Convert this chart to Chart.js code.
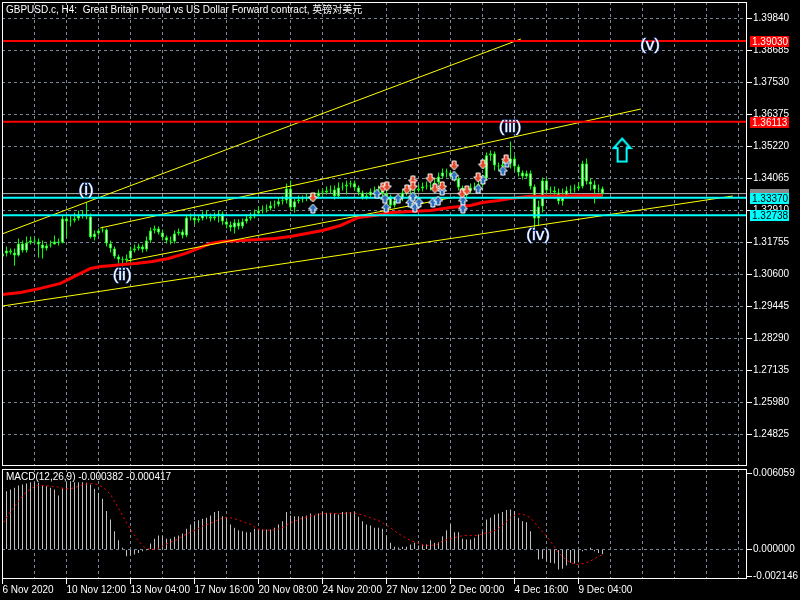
<!DOCTYPE html>
<html><head><meta charset="utf-8">
<script src="https://cdn.jsdelivr.net/npm/chart.js@4/dist/chart.umd.min.js"></script>
<style>
html,body{margin:0;padding:0;background:#000;width:800px;height:600px;overflow:hidden}
#main{position:absolute;left:0;top:0}
#macd{position:absolute;left:0;top:468px}
</style></head><body>
<canvas id="main" width="800" height="468"></canvas>
<canvas id="macd" width="800" height="132"></canvas>
<script>
// ---------------- DATA ----------------
const titleText = 'GBPUSD.c, H4:  Great Britain Pound vs US Dollar Forward contract, 英镑对美元';
const macdLabel = 'MACD(12,26,9) -0.000382 -0.000417';

const firstOpen = 1.3125;
const closes = [
1.3136,1.3147,1.3139,1.3129,1.3172,1.3147,1.3175,1.3183,1.3179,1.3168,
1.3154,1.3165,1.3168,1.3179,1.3175,1.3262,1.3251,1.3255,1.3262,1.3273,
1.3273,1.3269,1.3194,1.3208,1.3219,1.3222,1.3172,1.3154,1.3125,1.3114,
1.3111,1.3118,1.3147,1.3154,1.3161,1.3150,1.3183,1.3219,1.3226,1.3212,
1.3194,1.3183,1.3179,1.3208,1.3215,1.3201,1.3266,1.3266,1.3255,1.3262,
1.3277,1.3269,1.3262,1.3269,1.3280,1.3251,1.3240,1.3230,1.3248,1.3233,
1.3251,1.3262,1.3269,1.3280,1.3291,1.3295,1.3298,1.3309,1.3313,1.3324,
1.3327,1.3370,1.3302,1.3324,1.3331,1.3334,1.3338,1.3338,1.3342,1.3356,
1.3356,1.3363,1.3367,1.3342,1.3374,1.3378,1.3385,1.3389,1.3374,1.3356,
1.3338,1.3345,1.3360,1.3363,1.3367,1.3352,1.3342,1.3309,1.3327,1.3334,
1.3356,1.3363,1.3367,1.3363,1.3370,1.3378,1.3381,1.3378,1.3392,1.3414,
1.3428,1.3428,1.3416,1.3407,1.3374,1.3345,1.3363,1.3374,1.3378,1.3385,
1.3407,1.3490,1.3497,1.3453,1.3450,1.3457,1.3464,1.3479,1.3450,1.3428,
1.3414,1.3425,1.3378,1.3262,1.3305,1.3399,1.3363,1.3363,1.3356,1.3324,
1.3342,1.3363,1.3367,1.3370,1.3378,1.3461,1.3396,1.3385,1.3367,1.3370,
1.3352];
const highs = [
1.3150,1.3161,1.3154,1.3154,1.3190,1.3183,1.3197,1.3197,1.3194,1.3190,
1.3183,1.3172,1.3183,1.3201,1.3190,1.3273,1.3269,1.3273,1.3284,1.3291,
1.3291,1.3320,1.3280,1.3219,1.3226,1.3233,1.3226,1.3183,1.3161,1.3132,
1.3125,1.3132,1.3161,1.3168,1.3172,1.3168,1.3197,1.3230,1.3237,1.3233,
1.3222,1.3201,1.3197,1.3219,1.3226,1.3222,1.3277,1.3280,1.3277,1.3273,
1.3287,1.3291,1.3280,1.3284,1.3291,1.3287,1.3259,1.3251,1.3259,1.3259,
1.3262,1.3277,1.3284,1.3295,1.3305,1.3309,1.3313,1.3324,1.3327,1.3338,
1.3342,1.3388,1.3399,1.3334,1.3345,1.3345,1.3352,1.3352,1.3356,1.3367,
1.3370,1.3378,1.3381,1.3381,1.3392,1.3392,1.3399,1.3399,1.3399,1.3381,
1.3363,1.3356,1.3370,1.3378,1.3381,1.3378,1.3363,1.3349,1.3338,1.3345,
1.3367,1.3374,1.3381,1.3378,1.3385,1.3392,1.3396,1.3392,1.3407,1.3428,
1.3443,1.3443,1.3435,1.3428,1.3414,1.3381,1.3374,1.3388,1.3392,1.3399,
1.3421,1.3500,1.3508,1.3504,1.3464,1.3471,1.3482,1.3540,1.3490,1.3457,
1.3435,1.3435,1.3435,1.3385,1.3327,1.3410,1.3407,1.3378,1.3378,1.3370,
1.3370,1.3378,1.3381,1.3385,1.3392,1.3471,1.3479,1.3407,1.3399,1.3385,
1.3378];
const lows = [
1.3118,1.3125,1.3132,1.3092,1.3125,1.3139,1.3139,1.3168,1.3172,1.3121,
1.3118,1.3147,1.3157,1.3168,1.3165,1.3172,1.3194,1.3233,1.3248,1.3255,
1.3262,1.3259,1.3190,1.3183,1.3201,1.3212,1.3161,1.3139,1.3118,1.3100,
1.3089,1.3103,1.3103,1.3139,1.3147,1.3139,1.3143,1.3175,1.3208,1.3204,
1.3183,1.3172,1.3168,1.3172,1.3201,1.3190,1.3194,1.3255,1.3240,1.3248,
1.3255,1.3259,1.3251,1.3255,1.3248,1.3240,1.3226,1.3215,1.3208,1.3222,
1.3226,1.3244,1.3255,1.3262,1.3273,1.3280,1.3284,1.3291,1.3298,1.3305,
1.3313,1.3316,1.3291,1.3284,1.3316,1.3320,1.3324,1.3327,1.3327,1.3334,
1.3342,1.3349,1.3352,1.3331,1.3334,1.3363,1.3349,1.3374,1.3363,1.3345,
1.3331,1.3331,1.3338,1.3349,1.3352,1.3342,1.3331,1.3298,1.3302,1.3320,
1.3324,1.3345,1.3352,1.3352,1.3356,1.3360,1.3367,1.3363,1.3367,1.3385,
1.3407,1.3410,1.3407,1.3396,1.3363,1.3331,1.3334,1.3352,1.3363,1.3370,
1.3374,1.3399,1.3471,1.3435,1.3435,1.3443,1.3450,1.3443,1.3435,1.3414,
1.3403,1.3407,1.3367,1.3226,1.3237,1.3284,1.3349,1.3349,1.3334,1.3313,
1.3309,1.3338,1.3352,1.3356,1.3363,1.3370,1.3385,1.3363,1.3316,1.3356,
1.3342];

// MACD main (histogram)
const macdMain = [
0.00440,0.00465,0.00478,0.00492,0.00510,0.00518,0.00526,0.00537,0.00537,0.00532,
0.00510,0.00505,0.00492,0.00478,0.00431,0.00492,0.00537,0.00545,0.00537,0.00537,
0.00537,0.00532,0.00518,0.00484,0.00452,0.00404,0.00306,0.00239,0.00146,0.00074,
0.00013,-0.00053,-0.00048,-0.00040,-0.00027,-0.00013,-0.00005,0.00048,0.00085,0.00112,
0.00106,0.00085,0.00085,0.00101,0.00112,0.00128,0.00165,0.00199,0.00226,0.00234,
0.00245,0.00253,0.00271,0.00298,0.00306,0.00266,0.00261,0.00199,0.00173,0.00154,
0.00146,0.00138,0.00138,0.00165,0.00160,0.00160,0.00160,0.00160,0.00173,0.00199,
0.00226,0.00298,0.00271,0.00266,0.00266,0.00266,0.00271,0.00287,0.00271,0.00287,
0.00298,0.00292,0.00292,0.00287,0.00279,0.00298,0.00298,0.00298,0.00298,0.00261,
0.00226,0.00199,0.00191,0.00173,0.00173,0.00165,0.00112,0.00053,0.00021,0.00016,
0.00021,0.00021,0.00040,0.00053,0.00032,0.00040,0.00040,0.00074,0.00053,0.00058,
0.00106,0.00154,0.00199,0.00138,0.00138,0.00085,0.00080,0.00080,0.00093,0.00120,
0.00146,0.00239,0.00253,0.00279,0.00287,0.00298,0.00314,0.00319,0.00306,0.00253,
0.00226,0.00218,0.00146,-0.00005,-0.00080,-0.00074,-0.00093,-0.00106,-0.00112,-0.00159,
-0.00154,-0.00128,-0.00106,-0.00112,-0.00101,-0.00013,-0.00005,0.00013,-0.00013,-0.00027,
-0.000382];

// MACD signal line (read at these bar positions)
const sigBar = [0.3,1.8,3.7,5.3,7,8.7,10.3,12,13.7,15.3,17,18.7,20.3,22,23.7,25.3,27,28.7,30.3,32,
33.7,35.3,37,38.7,40.3,42,43.7,45.3,47,48.7,50.3,52,53.7,55.3,57,58.7,60.3,62,63.7,65.3,
67,68.7,70.3,72,73.7,75.3,77,78.7,80.3,82,83.7,85.3,87,88.7,90.3,92,93.7,95.3,97,98.7,
100.3,102,103.7,105.3,107,108.7,110.3,112,113.7,115.3,117,118.7,120.3,122,123.7,125.3,127,128.7,130.3,132,
133.7,135.3,137,138.7,140.3,142,143.7,145.3,147,148.7,150];
const sigVal = [0.00218,0.00292,0.00372,0.00439,0.00484,0.00511,0.00511,0.00505,0.00500,0.00484,
0.00484,0.00500,0.00519,0.00527,0.00519,0.00492,0.00439,0.00346,0.00253,0.00160,
0.00080,0.00021,0.00000,0.00005,0.00032,0.00059,0.00080,0.00112,0.00138,0.00160,
0.00192,0.00207,0.00234,0.00253,0.00253,0.00239,0.00218,0.00200,0.00165,0.00154,
0.00154,0.00160,0.00181,0.00213,0.00234,0.00253,0.00266,0.00279,0.00287,0.00287,
0.00287,0.00287,0.00293,0.00287,0.00271,0.00253,0.00234,0.00207,0.00173,0.00133,
0.00101,0.00072,0.00053,0.00032,0.00032,0.00040,0.00074,0.00085,0.00101,0.00112,
0.00112,0.00112,0.00128,0.00138,0.00160,0.00200,0.00253,0.00285,0.00279,0.00253,
0.00186,0.00133,0.00067,-0.00013,-0.00067,-0.00106,-0.00120,-0.00112,-0.00093,-0.00059,
-0.000417];

// Red moving average on price (read at these bar positions)
const maBar = [0,4.5,9.5,14.5,17,19.5,22,24.5,27,30,33.3,37.5,41.5,45.8,49.5,52,55,59.5,64,68,
72,76,80,84.5,89,93,97,102,107,112,117,120,124,127,132,150];
const maVal = [1.2988,1.2995,1.3010,1.3028,1.3046,1.3064,1.3082,1.3089,1.3092,1.3096,
1.3100,1.3107,1.3118,1.3136,1.3157,1.3172,1.3179,1.3183,1.3186,1.3190,
1.3197,1.3208,1.3219,1.3237,1.3266,1.3273,1.3284,1.3287,1.3291,1.3302,
1.3309,1.3320,1.3327,1.3334,1.3342,1.3345];

// axes
const priceTicks = [1.39840,1.38685,1.37530,1.36375,1.35220,1.34065,1.32910,1.31755,1.30600,1.29445,1.28290,1.27135,1.25980,1.24825];
const macdTicks = [0.006059, 0.000000, -0.002146];
const timeLabels = ['6 Nov 2020','10 Nov 12:00','13 Nov 04:00','17 Nov 16:00','20 Nov 08:00','24 Nov 20:00','27 Nov 12:00','2 Dec 00:00','4 Dec 16:00','9 Dec 04:00'];
const labelBars = [0,16,32,48,64,80,96,112,128,144];

// horizontal levels
const hLevels = [1.39030, 1.36113, 1.33370, 1.32738];
const hColors = ['#ff0000','#ff0000','#00ffff','#00ffff'];
const hText = ['#ffffff','#ffffff','#000000','#000000'];
const bidPrice = 1.3352;

// trend lines
const trendFromBar = [0, 24.4, 31.1, 0];
const trendFromPrice = [1.32069, 1.32278, 1.31087, 1.29463];
const trendToBar = [129.6, 159.6, 113.1, 182.6];
const trendToPrice = [1.39100, 1.36574, 1.33397, 1.33433];

// wave labels
const waveNames = ['(i)','(ii)','(iii)','(iv)','(v)'];
const waveBar = [20.9, 29.9, 126.9, 133.9, 161.9];
const wavePrice = [1.3365, 1.3056, 1.3591, 1.3201, 1.3887];

// signal arrows
const sellBar = [77.6,95.1,96.1,101.1,102.6,102.6,106.9,108.1,109.9,112.9,114.9,116.1,118.9,120.1,125.9];
const sellPrice = [1.3338,1.3374,1.3378,1.3367,1.3399,1.3378,1.3407,1.3370,1.3378,1.3453,1.3352,1.3363,1.3410,1.3457,1.3475];
const buyBar = [77.6,93.6,95.6,95.9,98.9,101.9,102.6,103.1,104.1,107.6,108.9,109.9,112.9,115.1,115.1,118.9,120.1,125.1,126.1];
const buyPrice = [1.3298,1.3352,1.3334,1.3302,1.3334,1.3320,1.3342,1.3302,1.3320,1.3320,1.3327,1.3363,1.3417,1.3327,1.3298,1.3370,1.3403,1.3435,1.3464];
const upArrowBar = [154.9];
const upArrowPrice = [1.3509];

// ---------------- SETTINGS ----------------
const X_MIN = -0.125, X_MAX = 186.125;
const P_MIN = 1.236880, P_MAX = 1.404355;
const M_MIN = -0.0023518, M_MAX = 0.0064177;
const GRID = '#778899';
const FONT = '"Liberation Sans", Arial, "Noto Sans CJK SC", sans-serif';
const gridBars = [];
for (let b = 0; b <= 184; b += 8) gridBars.push(b);

const opens = closes.map((c, i) => i === 0 ? firstOpen : closes[i - 1]);

function makeArrow(color, down) {
  const c = document.createElement('canvas'); c.width = 11; c.height = 11;
  const g = c.getContext('2d');
  const pts = [[3.5,1],[7.5,1],[7.5,5],[10,5],[5.5,10],[1,5],[3.5,5]];
  g.beginPath();
  pts.forEach(([px, py], k) => { const yy = down ? py : 11 - py; if (k) g.lineTo(px, yy); else g.moveTo(px, yy); });
  g.closePath(); g.fillStyle = color; g.fill();
  g.strokeStyle = '#ffffff'; g.lineWidth = 1; g.stroke();
  return c;
}
function makeBigUp() {
  const c = document.createElement('canvas'); c.width = 21; c.height = 26;
  const g = c.getContext('2d');
  g.beginPath(); g.moveTo(10.5,1.5); g.lineTo(19,11); g.lineTo(15,11); g.lineTo(15,24.5);
  g.lineTo(6,24.5); g.lineTo(6,11); g.lineTo(2,11); g.closePath();
  g.strokeStyle = '#00ffff'; g.lineWidth = 2; g.stroke();
  return c;
}
const sellImg = makeArrow('#e8472b', true);
const buyImg = makeArrow('#2a6fbe', false);
const bigUpImg = makeBigUp();

Chart.defaults.font.family = FONT;
Chart.defaults.font.size = 10;

const overlayMain = {
  id: 'overlayMain',
  afterDraw(chart) {
    const {ctx, chartArea: a, scales: {x, y}} = chart;
    ctx.save();
    ctx.setLineDash([]);
    // wave labels
    ctx.font = '17px ' + FONT;
    ctx.textAlign = 'center'; ctx.textBaseline = 'middle';
    waveNames.forEach((t, k) => {
      const px = x.getPixelForValue(waveBar[k]), py = y.getPixelForValue(wavePrice[k]);
      ctx.lineWidth = 1; ctx.strokeStyle = 'rgba(60,110,220,0.9)'; ctx.strokeText(t, px, py);
      ctx.fillStyle = '#ffffff'; ctx.fillText(t, px, py);
    });
    // title
    ctx.font = '10px ' + FONT; ctx.textAlign = 'left'; ctx.fillStyle = '#ffffff';
    ctx.fillText(titleText, a.left + 4, a.top + 8);
    // frame
    ctx.strokeStyle = '#ffffff'; ctx.lineWidth = 1;
    ctx.strokeRect(a.left + 0.5, a.top + 0.5, a.right - a.left - 1, a.bottom - a.top - 1);
    // price boxes
    const bx = a.right + 3, bw = 39, bh = 11;
    const by0 = Math.round(y.getPixelForValue(bidPrice)) - 5;
    ctx.fillStyle = '#8a8a8a'; ctx.fillRect(bx, by0, bw, bh);
    hLevels.forEach((v, k) => {
      const by = Math.round(y.getPixelForValue(v)) - 5;
      ctx.fillStyle = hColors[k]; ctx.fillRect(bx, by, bw, bh);
      ctx.fillStyle = hText[k]; ctx.textBaseline = 'middle';
      ctx.fillText(v.toFixed(5), bx + 2, by + bh / 2 + 0.5);
    });
    ctx.restore();
  }
};
const overlayMacd = {
  id: 'overlayMacd',
  afterDraw(chart) {
    const {ctx, chartArea: a} = chart;
    ctx.save();
    ctx.setLineDash([]);
    ctx.strokeStyle = '#ffffff'; ctx.lineWidth = 1;
    ctx.strokeRect(a.left + 0.5, a.top + 0.5, a.right - a.left - 1, a.bottom - a.top - 1);
    ctx.font = '10px ' + FONT; ctx.fillStyle = '#ffffff'; ctx.textAlign = 'left'; ctx.textBaseline = 'middle';
    ctx.fillText(macdLabel, a.left + 4, a.top + 8);
    ctx.restore();
  }
};

const hDatasets = hLevels.map((v, k) => ({
  type: 'line', data: [{x: X_MIN, y: v}, {x: X_MAX, y: v}],
  borderColor: hColors[k], borderWidth: 2, pointRadius: 0, order: 1
}));
const tDatasets = trendFromBar.map((b, k) => ({
  type: 'line', data: [{x: b, y: trendFromPrice[k]}, {x: trendToBar[k], y: trendToPrice[k]}],
  borderColor: '#ffff00', borderWidth: 1, pointRadius: 0, order: 2
}));

new Chart(document.getElementById('main'), {
  type: 'bar',
  data: { datasets: [
    { type: 'scatter', data: sellBar.map((b, k) => ({x: b, y: sellPrice[k]})), pointStyle: sellImg, pointRadius: 5, order: 0 },
    { type: 'scatter', data: buyBar.map((b, k) => ({x: b, y: buyPrice[k]})), pointStyle: buyImg, pointRadius: 5, order: 0 },
    { type: 'scatter', data: upArrowBar.map((b, k) => ({x: b, y: upArrowPrice[k]})), pointStyle: bigUpImg, pointRadius: 10, order: 0 },
    ...hDatasets,
    ...tDatasets,
    { type: 'line', data: maBar.map((b, k) => ({x: b, y: maVal[k]})), borderColor: '#ff0000', borderWidth: 3, pointRadius: 0, tension: 0, order: 3 },
    { type: 'bar', data: closes.map((c, i) => ({x: i, y: [opens[i], c]})), backgroundColor: '#ffffff', borderColor: '#00ff00',
      borderWidth: 1, borderSkipped: false, barThickness: 3, grouped: false, minBarLength: 1, inflateAmount: 0, order: 4 },
    { type: 'bar', data: closes.map((c, i) => ({x: i, y: [lows[i], highs[i]]})), backgroundColor: '#00ff00',
      borderWidth: 0, barThickness: 1, grouped: false, inflateAmount: 0, order: 5 },
    { type: 'line', data: [{x: X_MIN, y: bidPrice}, {x: X_MAX, y: bidPrice}], borderColor: '#b4b4b4', borderWidth: 1, pointRadius: 0, order: 6 }
  ]},
  options: {
    responsive: false, animation: false, devicePixelRatio: 1, events: [],
    layout: { autoPadding: false, padding: { left: 2, top: 2, right: 0, bottom: 2 } },
    plugins: { legend: { display: false }, tooltip: { enabled: false } },
    scales: {
      x: { type: 'linear', min: X_MIN, max: X_MAX, offset: false,
        afterBuildTicks: s => { s.ticks = gridBars.map(v => ({value: v})); },
        afterFit: s => { s.height = 0; s.paddingLeft = 0; s.paddingRight = 0; },
        ticks: { display: false },
        grid: { color: c => (c.tick && c.tick.value === 0) ? 'rgba(0,0,0,0)' : GRID, lineWidth: 1, drawTicks: false, offset: false },
        border: { display: false, dash: [3, 3] } },
      y: { type: 'linear', position: 'right', min: P_MIN, max: P_MAX,
        afterBuildTicks: s => { s.ticks = priceTicks.map(v => ({value: v})); },
        afterFit: s => { s.width = 53; s.paddingTop = 0; s.paddingBottom = 0; },
        ticks: { color: '#ffffff', padding: 1, autoSkip: false, callback: v => Number(v).toFixed(5) },
        grid: { color: GRID, lineWidth: 1, drawTicks: true, tickLength: 5, tickColor: '#ffffff', tickWidth: 1 },
        border: { display: false, dash: [3, 3] } }
    }
  },
  plugins: [overlayMain]
});

new Chart(document.getElementById('macd'), {
  type: 'bar',
  data: { datasets: [
    { type: 'line', data: sigBar.map((b, k) => ({x: b, y: sigVal[k]})), borderColor: '#ff0000', borderWidth: 1,
      borderDash: [2, 3], pointRadius: 0, tension: 0, order: 0 },
    { type: 'bar', data: macdMain.map((v, i) => ({x: i, y: v})), backgroundColor: '#c0c0c0', borderWidth: 0,
      barThickness: 1, grouped: false, inflateAmount: 0, order: 1 }
  ]},
  options: {
    responsive: false, animation: false, devicePixelRatio: 1, events: [],
    layout: { autoPadding: false, padding: { left: 2, top: 1, right: 0, bottom: 0 } },
    plugins: { legend: { display: false }, tooltip: { enabled: false } },
    scales: {
      x: { type: 'linear', min: X_MIN, max: X_MAX, offset: false,
        afterBuildTicks: s => { s.ticks = gridBars.map(v => ({value: v})); },
        afterFit: s => { s.height = 21; s.paddingLeft = 0; s.paddingRight = 0; },
        ticks: { color: '#ffffff', align: 'start', autoSkip: false, maxRotation: 0, minRotation: 0, padding: 0,
          callback: v => { const k = labelBars.indexOf(v); return k >= 0 ? timeLabels[k] : ''; } },
        grid: { color: c => (c.tick && c.tick.value === 0) ? 'rgba(0,0,0,0)' : GRID, lineWidth: 1, offset: false,
          drawTicks: true, tickLength: 5,
          tickColor: c => (c.tick && labelBars.indexOf(c.tick.value) >= 0) ? '#ffffff' : 'rgba(0,0,0,0)' },
        border: { display: false, dash: [3, 3] } },
      y: { type: 'linear', position: 'right', min: M_MIN, max: M_MAX,
        afterBuildTicks: s => { s.ticks = macdTicks.map(v => ({value: v})); },
        afterFit: s => { s.width = 53; s.paddingTop = 0; s.paddingBottom = 0; },
        ticks: { color: '#ffffff', padding: 1, autoSkip: false, callback: v => Number(v).toFixed(6) },
        grid: { color: c => (c.tick && c.tick.value === 0) ? GRID : 'rgba(0,0,0,0)', lineWidth: 1,
          drawTicks: true, tickLength: 5, tickColor: '#ffffff' },
        border: { display: false, dash: [3, 3] } }
    }
  },
  plugins: [overlayMacd]
});
</script>
</body></html>
